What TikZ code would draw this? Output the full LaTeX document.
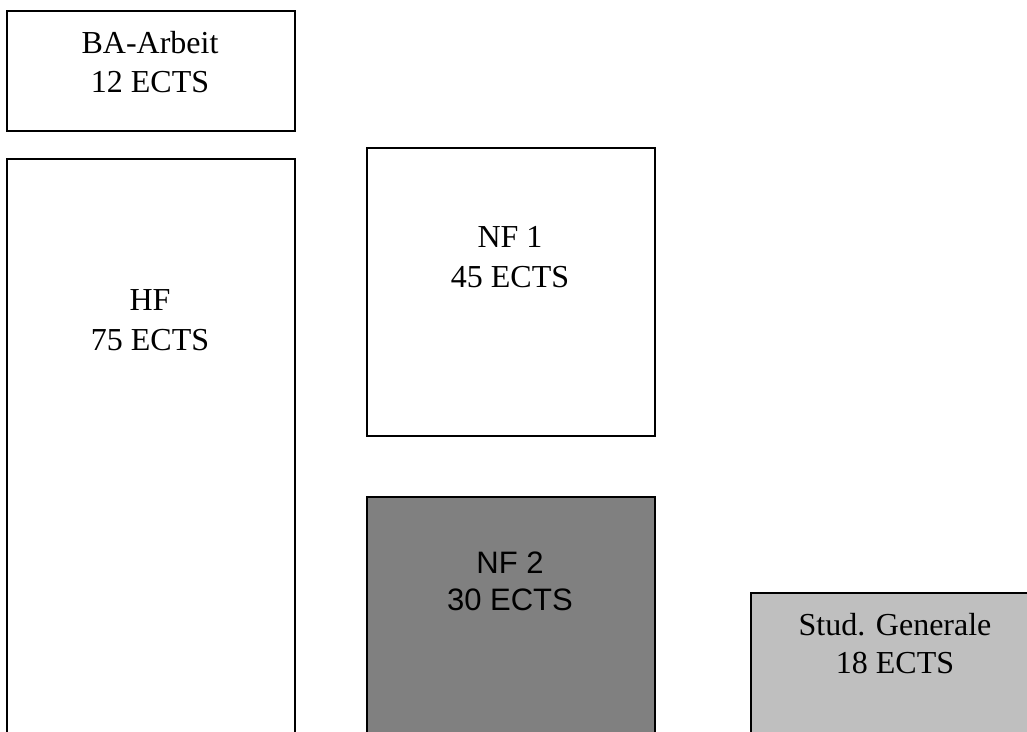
\documentclass[tikz,border=0pt]{standalone}
\usepackage{fontspec}
\setmainfont{Liberation Serif}
\newfontfamily\nfsans{Liberation Sans}
\tikzset{
  boxshape/.style={draw=black, line width=2pt, anchor=north west, inner sep=0pt},
  serifline/.style={anchor=base, inner sep=0pt, font=\fontsize{32}{39}\selectfont},
  sansline/.style={anchor=base, inner sep=0pt, font=\nfsans\fontsize{31}{37}\selectfont},
}
\begin{document}
\begin{tikzpicture}[x=1pt,y=-1pt]
\useasboundingbox (0,0) rectangle (1027,731);
\fill[white] (0,0) rectangle (1027,731);
% boxes
\node[boxshape, fill=white, minimum width=288pt, minimum height=120pt] (ba) at (6,10) {};
\node[boxshape, fill=white, minimum width=288pt, minimum height=600pt] (hf) at (6,158) {};
\node[boxshape, fill=white, minimum width=288pt, minimum height=288pt] (nfa) at (366,147) {};
\node[boxshape, fill=black!50, minimum width=288pt, minimum height=260pt] (nfb) at (366,496) {};
\node[boxshape, fill=black!25, minimum width=300pt, minimum height=160pt] (sg) at (750,592) {};
% texts
\node[serifline] (baA) at (150,53) {BA-Arbeit};
\node[serifline] (baB) at (150,92) {12 ECTS};
\node[serifline] (hfA) at (150,310) {HF};
\node[serifline] (hfB) at (150,350) {75 ECTS};
\node[serifline] (nfaA) at (510,247) {NF 1};
\node[serifline] (nfaB) at (510,287) {45 ECTS};
\node[sansline] (nfbA) at (510,573) {NF 2};
\node[sansline] (nfbB) at (510,610) {30 ECTS};
\node[serifline] (sgA) at (895,635) {Stud. Generale};
\node[serifline] (sgB) at (895,673) {18 ECTS};
\end{tikzpicture}
\end{document}
